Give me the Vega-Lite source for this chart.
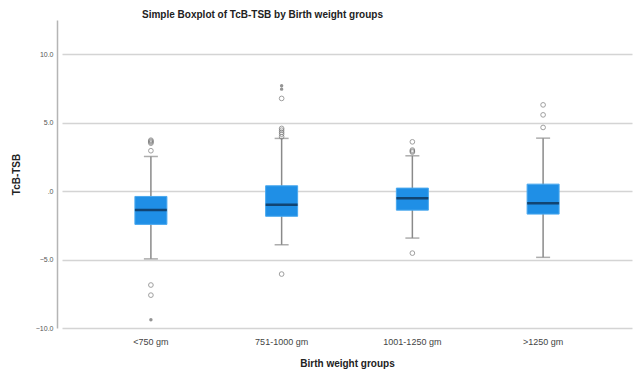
{
  "$schema": "https://vega.github.io/schema/vega-lite/v6.json",
  "width": 575,
  "height": 308,
  "autosize": {"type": "none"},
  "padding": {"left": 57, "top": 20, "right": 3, "bottom": 43},
  "background": "white",
  "title": {
    "text": "Simple Boxplot of TcB-TSB by Birth weight groups",
    "font": "Liberation Sans",
    "fontSize": 10,
    "fontWeight": "bold",
    "color": "#222222",
    "anchor": "middle",
    "dx": -82,
    "offset": 0
  },
  "config": {
    "view": {"stroke": null},
    "axis": {"labelFont": "Liberation Sans", "titleFont": "Liberation Sans"}
  },
  "datasets": {
    "boxes": [
      {"group": "<750 gm", "lo": -4.95, "q1": -2.43, "med": -1.38, "q3": -0.39, "hi": 2.53},
      {"group": "751-1000 gm", "lo": -3.92, "q1": -1.84, "med": -1.0, "q3": 0.39, "hi": 3.85},
      {"group": "1001-1250 gm", "lo": -3.43, "q1": -1.39, "med": -0.53, "q3": 0.22, "hi": 2.58},
      {"group": ">1250 gm", "lo": -4.84, "q1": -1.68, "med": -0.88, "q3": 0.51, "hi": 3.87}
    ],
    "outliers": [
      {"group": "<750 gm", "v": 3.72, "kind": "o"},
      {"group": "<750 gm", "v": 3.65, "kind": "o"},
      {"group": "<750 gm", "v": 3.58, "kind": "o"},
      {"group": "<750 gm", "v": 3.5, "kind": "o"},
      {"group": "<750 gm", "v": 2.95, "kind": "o"},
      {"group": "<750 gm", "v": -6.86, "kind": "o"},
      {"group": "<750 gm", "v": -7.6, "kind": "o"},
      {"group": "<750 gm", "v": -9.4, "kind": "*"},
      {"group": "751-1000 gm", "v": 7.69, "kind": "*"},
      {"group": "751-1000 gm", "v": 7.45, "kind": "*"},
      {"group": "751-1000 gm", "v": 6.77, "kind": "o"},
      {"group": "751-1000 gm", "v": 4.58, "kind": "o"},
      {"group": "751-1000 gm", "v": 4.45, "kind": "o"},
      {"group": "751-1000 gm", "v": 4.3, "kind": "o"},
      {"group": "751-1000 gm", "v": 4.16, "kind": "o"},
      {"group": "751-1000 gm", "v": 3.97, "kind": "o"},
      {"group": "751-1000 gm", "v": -6.06, "kind": "o"},
      {"group": "1001-1250 gm", "v": 3.6, "kind": "o"},
      {"group": "1001-1250 gm", "v": 3.0, "kind": "o"},
      {"group": "1001-1250 gm", "v": 2.92, "kind": "o"},
      {"group": "1001-1250 gm", "v": 2.85, "kind": "o"},
      {"group": "1001-1250 gm", "v": -4.53, "kind": "o"},
      {"group": ">1250 gm", "v": 6.3, "kind": "o"},
      {"group": ">1250 gm", "v": 5.57, "kind": "o"},
      {"group": ">1250 gm", "v": 4.65, "kind": "o"}
    ]
  },
  "encoding": {
    "x": {
      "field": "group",
      "type": "nominal",
      "scale": {"domain": ["<750 gm", "751-1000 gm", "1001-1250 gm", ">1250 gm"], "range": [5, 575], "paddingInner": 0, "paddingOuter": 0.18},
      "axis": {
        "title": "Birth weight groups",
        "titleFontSize": 10,
        "titleFontWeight": "bold",
        "titleColor": "#222222",
        "titlePadding": 12,
        "labelAngle": 0,
        "labelFontSize": 9,
        "labelColor": "#444444",
        "labelPadding": 9,
        "ticks": false,
        "domain": false,
        "grid": false
      }
    }
  },
  "layer": [
    {
      "data": {"name": "boxes"},
      "mark": {"type": "rule", "color": "#8a8a8a", "strokeWidth": 1.5},
      "encoding": {
        "y": {
          "field": "lo",
          "type": "quantitative",
          "scale": {"domain": [-10, 12.5], "nice": false, "zero": false},
          "axis": {
            "title": "TcB-TSB",
            "titleFontSize": 10,
            "titleFontWeight": "bold",
            "titleColor": "#222222",
            "titlePadding": 14,
            "values": [-10, -5, 0, 5, 10],
            "labelExpr": "datum.value == 0 ? '.0' : format(datum.value, '.1f')",
            "labelFontSize": 7,
            "labelColor": "#555555",
            "labelPadding": 4,
            "ticks": false,
            "domainColor": "#b5b5b5",
            "domainWidth": 1.5,
            "gridColor": "#d4d4d4",
            "gridWidth": 1.5
          }
        },
        "y2": {"field": "hi"}
      }
    },
    {
      "data": {"name": "boxes"},
      "mark": {"type": "tick", "color": "#8a8a8a", "size": 14, "thickness": 1.5},
      "encoding": {"y": {"field": "lo", "type": "quantitative"}}
    },
    {
      "data": {"name": "boxes"},
      "mark": {"type": "tick", "color": "#8a8a8a", "size": 14, "thickness": 1.5},
      "encoding": {"y": {"field": "hi", "type": "quantitative"}}
    },
    {
      "data": {"name": "boxes"},
      "mark": {"type": "bar", "color": "#1f8fe6", "size": 32, "stroke": "#4aa8ee", "strokeWidth": 1},
      "encoding": {"y": {"field": "q1", "type": "quantitative"}, "y2": {"field": "q3"}}
    },
    {
      "data": {"name": "boxes"},
      "mark": {"type": "tick", "color": "#0c2440", "size": 32, "thickness": 2.5},
      "encoding": {"y": {"field": "med", "type": "quantitative"}}
    },
    {
      "data": {"name": "outliers"},
      "transform": [{"filter": "datum.kind == 'o'"}],
      "mark": {"type": "point", "shape": "circle", "filled": false, "color": "#777777", "size": 22, "strokeWidth": 1},
      "encoding": {"y": {"field": "v", "type": "quantitative"}}
    },
    {
      "data": {"name": "outliers"},
      "transform": [{"filter": "datum.kind == '*'"}],
      "mark": {"type": "point", "shape": "circle", "filled": true, "color": "#666666", "size": 12},
      "encoding": {"y": {"field": "v", "type": "quantitative"}}
    }
  ]
}
